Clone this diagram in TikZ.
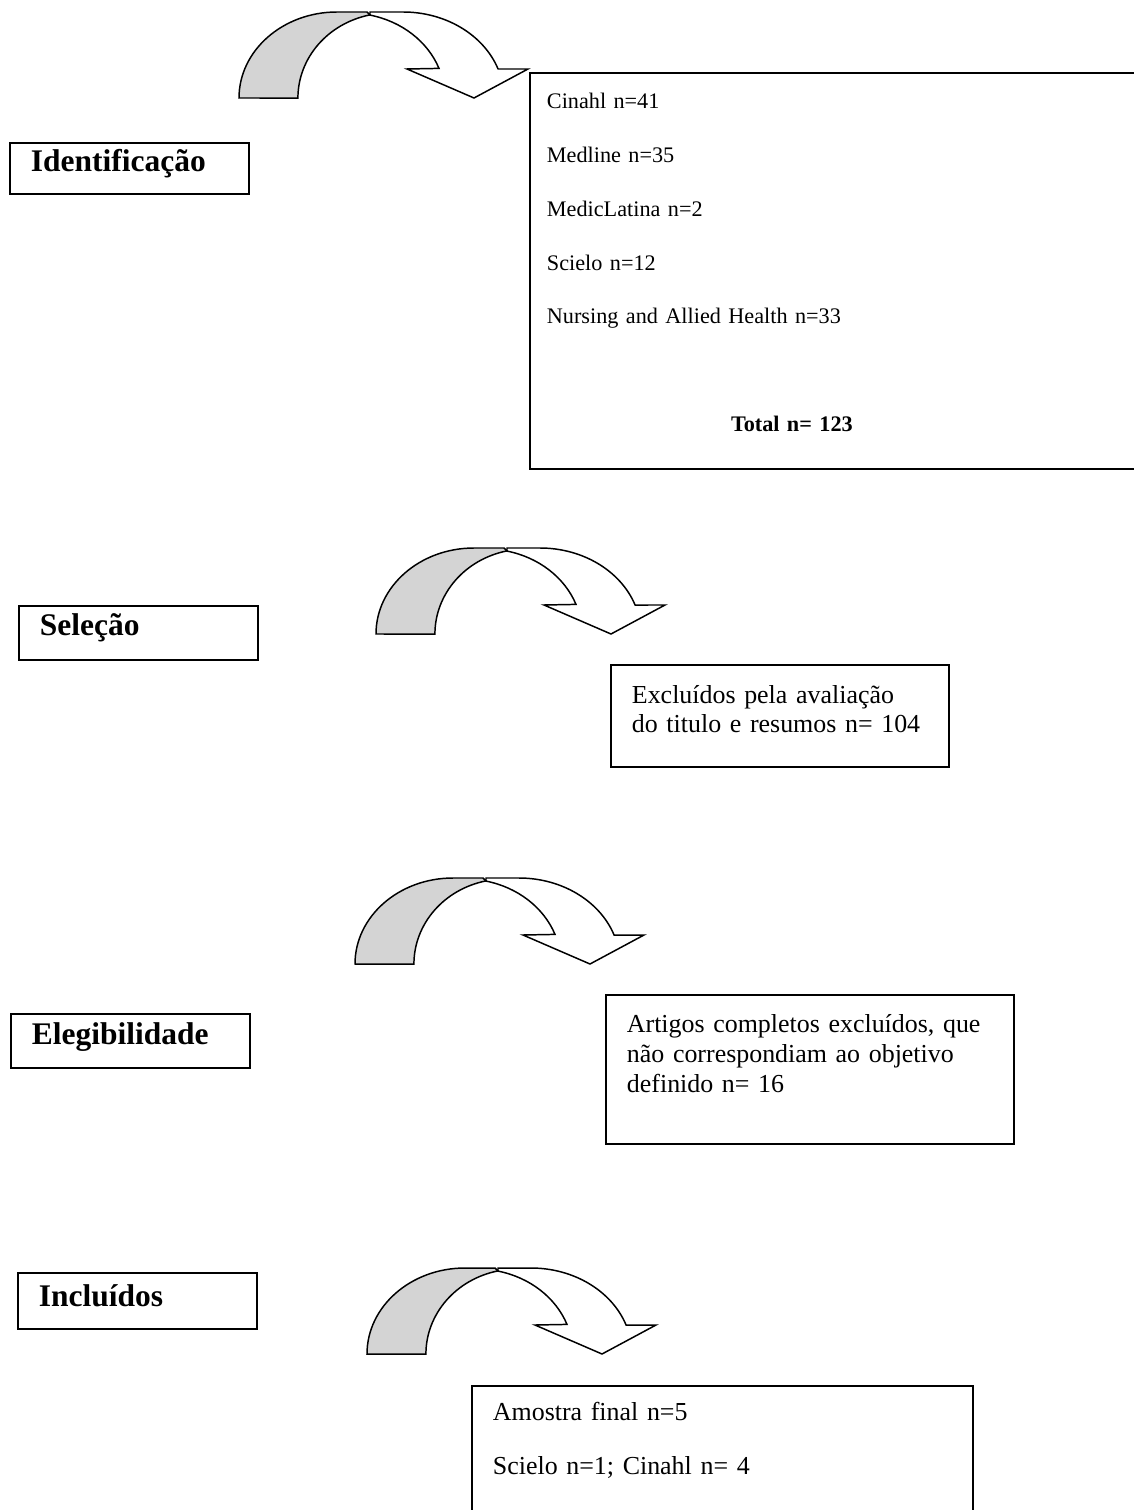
\documentclass[tikz,border=0pt]{standalone}
\usepackage{fontspec}
\setmainfont{Liberation Serif}

\tikzset{
  curvarrow/.pic={
    % front band with the head
    \draw[line width=0.8pt,fill=white] (131,86) -- (164,86)
      arc[start angle=90,end angle=19.7,x radius=101,y radius=86]
      -- (289,29) -- (235,0) -- (168,29) -- (200,29.6)
      arc[start angle=20.4,end angle=77.4,x radius=96,y radius=85] -- cycle;
    % grey back band
    \draw[line width=0.8pt,fill=black!17] (0,0)
      arc[start angle=180,end angle=90,x radius=98,y radius=86]
      -- (128,86) -- (131,83.1)
      arc[start angle=102,end angle=180,x radius=91,y radius=85] -- cycle;
  }
}

\begin{document}
\begin{tikzpicture}[x=0.54pt,y=0.54pt,
  stage/.style={draw,line width=1pt,anchor=north west,align=left,
    inner xsep=11.34pt,inner ysep=0pt,text width=106.4pt,
    font=\fontsize{17}{20}\selectfont\bfseries},
  box/.style={draw,line width=1pt,anchor=north west,align=left,
    inner xsep=11.34pt,inner ysep=0pt}]
\useasboundingbox (0,0) rectangle (1134,-1510);

\pic at (239,-98) {curvarrow};
\pic at (376,-634) {curvarrow};
\pic at (355,-964) {curvarrow};
\pic at (367,-1354) {curvarrow};

\node[stage,text height=15.66pt,text depth=11.88pt] (ident) at (9,-142) {Identificação};
\node[stage,text height=16.2pt,text depth=12.96pt] (selec) at (18,-605) {Seleção};
\node[stage,text height=16.74pt,text depth=12.42pt] (eleg) at (10,-1013) {Elegibilidade};
\node[stage,text height=18.36pt,text depth=11.88pt] (incl) at (17,-1272) {Incluídos};

\node[box,inner xsep=9.18pt,text width=317pt,text height=19.44pt,text depth=194.4pt,
  font=\fontsize{12}{29}\selectfont] (bases) at (529,-72)
  {Cinahl n=41\\Medline n=35\\MedicLatina n=2\\Scielo n=12\\Nursing and Allied Health n=33\\[29pt]
   \hspace*{99.4pt}\textbf{Total n= 123}};
\node[box,text width=159.84pt,text height=21.06pt,text depth=34.02pt,
  font=\fontsize{14}{15.66}\selectfont] (excl) at (610,-664)
  {Excluídos pela avaliação\\do titulo e resumos n= 104};
\node[box,text width=197.64pt,text height=20.52pt,text depth=59.94pt,
  font=\fontsize{14}{16.2}\selectfont] (artig) at (605,-994)
  {Artigos completos excluídos, que\\não correspondiam ao objetivo\\definido n= 16};
\node[box,text width=247.86pt,text height=18.9pt,text depth=59.4pt,
  font=\fontsize{14}{29.16}\selectfont] (amostra) at (471,-1385)
  {Amostra final n=5\\Scielo n=1; Cinahl n= 4};
\end{tikzpicture}
\end{document}
